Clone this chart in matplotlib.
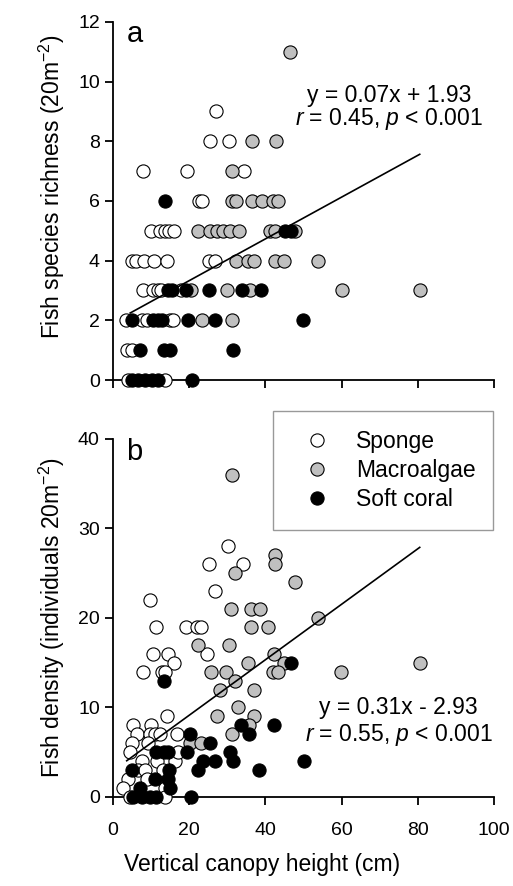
import matplotlib
matplotlib.use("Agg")
import matplotlib.pyplot as plt
from matplotlib.lines import Line2D
import numpy as np

plt.rcParams['font.family'] = ['Liberation Sans', 'DejaVu Sans']
plt.rcParams['mathtext.fontset'] = 'custom'
plt.rcParams['mathtext.rm'] = 'Liberation Sans'
plt.rcParams['mathtext.it'] = 'Liberation Sans:italic'

# panel a: species richness vs canopy height
a_sponge_x = [26.9, 25.4, 30.4, 7.9, 19.3, 34.3, 22.5, 23.4, 10.1, 12.3, 13.7, 14.6, 16.0,
              5.1, 6.0, 8.2, 10.8, 14.2, 25.2, 26.7, 7.9, 10.4, 11.7, 12.6, 17.8,
              3.4, 7.6, 8.9, 15.0, 15.7, 3.7, 5.0, 4.0, 13.6]
a_sponge_y = [9, 8, 8, 7, 7, 7, 6, 6, 5, 5, 5, 5, 5,
              4, 4, 4, 4, 4, 4, 4, 3, 3, 3, 3, 3,
              2, 2, 2, 2, 2, 1, 1, 0, 0]
a_macro_x = [46.4, 36.4, 42.7, 31.2, 31.2, 32.4, 36.4, 39.0, 42.1, 43.3,
             22.4, 25.5, 27.4, 28.9, 30.7, 33.0, 41.1, 42.4, 47.7,
             32.2, 35.3, 37.0, 42.5, 45.0, 53.8, 20.4, 29.9, 35.9, 60.0, 80.5, 23.3, 31.2]
a_macro_y = [11, 8, 8, 7, 6, 6, 6, 6, 6, 6,
             5, 5, 5, 5, 5, 5, 5, 5, 5,
             4, 4, 4, 4, 4, 4, 3, 3, 3, 3, 3, 2, 2]
a_soft_x = [13.7, 45.2, 46.6, 14.5, 15.6, 19.2, 25.1, 33.8, 38.9,
            5.0, 10.5, 11.8, 12.8, 19.7, 26.7, 49.8, 7.0, 13.3, 14.9, 31.5,
            5.0, 6.6, 8.3, 10.2, 11.8, 20.7]
a_soft_y = [6, 5, 5, 3, 3, 3, 3, 3, 3,
            2, 2, 2, 2, 2, 2, 2, 1, 1, 1, 1,
            0, 0, 0, 0, 0, 0]

# panel b: fish density vs canopy height
b_sponge_x = [30.2, 25.2, 34.2, 26.7, 9.7, 11.4, 19.1, 22.1, 23.2, 10.4, 14.5, 24.7, 16.0,
              7.8, 12.8, 13.6, 14.1, 5.3, 10.1, 6.2, 9.7, 11.0, 12.3, 16.7, 4.9, 9.3,
              4.5, 7.5, 16.3, 11.5, 6.6, 8.4, 13.0, 4.0, 9.0, 2.7, 13.6, 13.6, 4.5, 17.0]
b_sponge_y = [28, 26, 26, 23, 22, 19, 19, 19, 19, 16, 16, 16, 15,
              14, 14, 14, 9, 8, 8, 7, 7, 7, 7, 7, 6, 6,
              5, 4, 4, 4, 3, 3, 3, 2, 2, 1, 1, 0, 0, 5]
b_macro_x = [31.1, 42.5, 42.5, 32.0, 47.7, 30.9, 36.3, 38.6, 53.8, 36.3, 40.7, 22.4, 30.5,
             42.2, 35.5, 45.0, 80.5, 25.7, 29.7, 41.9, 43.3, 59.8, 32.1, 28.2, 37.0,
             32.9, 27.2, 37.0, 35.8, 31.1, 20.2, 23.2]
b_macro_y = [36, 27, 26, 25, 24, 21, 21, 21, 20, 19, 19, 17, 17,
             16, 15, 15, 15, 14, 14, 14, 14, 14, 13, 12, 12,
             10, 9, 9, 8, 7, 6, 6]
b_soft_x = [46.8, 13.5, 33.7, 42.2, 35.7, 20.2, 25.4, 19.5, 13.4, 14.5, 11.4, 30.7,
            23.5, 26.7, 31.5, 50.0, 22.4, 38.3, 5.0, 14.8, 11.0, 14.5, 7.1, 14.9,
            5.3, 7.5, 9.7, 11.4, 20.4]
b_soft_y = [15, 13, 8, 8, 7, 7, 6, 5, 5, 5, 5, 5,
            4, 4, 4, 4, 3, 3, 3, 3, 2, 2, 1, 1,
            0, 0, 0, 0, 0]

# fitted lines as drawn (slope, intercept) and their x span
a_fit = (0.07, 1.93)
a_fit_x = [4.5, 80.5]
b_fit = (0.31, 2.93)
b_fit_x = [3.6, 80.5]

GREY = '#c0c0c0'
MS = 90

fig = plt.figure(figsize=(5.13, 8.86), dpi=100)
axa = fig.add_axes([0.2203, 0.5711, 0.7427, 0.4041])
axb = fig.add_axes([0.2203, 0.1005, 0.7427, 0.4041])


def draw(ax, sx, sy, mx, my, cx, cy, fit, fit_x):
    ax.scatter(sx, sy, s=MS, facecolor='white', edgecolor='black', linewidth=0.8, clip_on=False, zorder=3)
    ax.scatter(mx, my, s=MS, facecolor=GREY, edgecolor='black', linewidth=0.8, clip_on=False, zorder=3)
    ax.scatter(cx, cy, s=MS, facecolor='black', edgecolor='black', linewidth=0.8, clip_on=False, zorder=3)
    xl = np.array(fit_x)
    ax.plot(xl, fit[0] * xl + fit[1], color='black', lw=1.2, zorder=4)
    ax.set_xlim(0, 100)
    ax.spines['top'].set_visible(False)
    ax.spines['right'].set_visible(False)
    ax.spines['left'].set_linewidth(1.3)
    ax.spines['bottom'].set_linewidth(1.3)
    ax.tick_params(direction='out', length=6, width=1.3, labelsize=14)
    ax.tick_params(axis='x', pad=12)
    ax.set_xticks(np.arange(0, 101, 20))


draw(axa, a_sponge_x, a_sponge_y, a_macro_x, a_macro_y, a_soft_x, a_soft_y, a_fit, a_fit_x)
axa.set_ylim(0, 12)
axa.set_yticks(np.arange(0, 13, 2))
axa.tick_params(axis='x', labelbottom=False)
axa.set_ylabel('Fish species richness (20m$^{-2}$)', fontsize=16.5, labelpad=8, y=0.54)
axa.text(3.5, 11.6, 'a', fontsize=21, va='center')
axa.text(72.5, 9.55, 'y = 0.07x + 1.93', fontsize=16.5, ha='center', va='center')
axa.text(72.5, 8.75, '$\\it{r}$ = 0.45, $\\it{p}$ < 0.001', fontsize=16.5, ha='center', va='center')

draw(axb, b_sponge_x, b_sponge_y, b_macro_x, b_macro_y, b_soft_x, b_soft_y, b_fit, b_fit_x)
axb.set_ylim(0, 40)
axb.set_yticks(np.arange(0, 41, 10))
axb.set_ylabel('Fish density (individuals 20m$^{-2}$)', fontsize=16.5, labelpad=8)
axb.set_xlabel('Vertical canopy height (cm)', fontsize=16.5, labelpad=10, x=0.391)
axb.text(3.5, 38.5, 'b', fontsize=21, va='center')
axb.text(75, 10.0, 'y = 0.31x - 2.93', fontsize=16.5, ha='center', va='center')
axb.text(75, 6.9, '$\\it{r}$ = 0.55, $\\it{p}$ < 0.001', fontsize=16.5, ha='center', va='center')

handles = [Line2D([], [], ls='none', marker='o', ms=9.5, mfc=c, mec='black', mew=0.8)
           for c in ['white', GREY, 'black']]
leg = fig.legend(handles, ['Sponge', 'Macroalgae', 'Soft coral'], loc='upper left',
                 bbox_to_anchor=(0.532, 0.536, 0.429, 0.0), mode='expand',
                 bbox_transform=fig.transFigure, fontsize=16.5, frameon=True, fancybox=False,
                 borderaxespad=0, borderpad=0.82, handlelength=2.2, handletextpad=0.59,
                 labelspacing=0.27)
leg.get_frame().set_edgecolor('#808080')
leg.get_frame().set_linewidth(1.0)

fig.savefig('out.png', dpi=100)
